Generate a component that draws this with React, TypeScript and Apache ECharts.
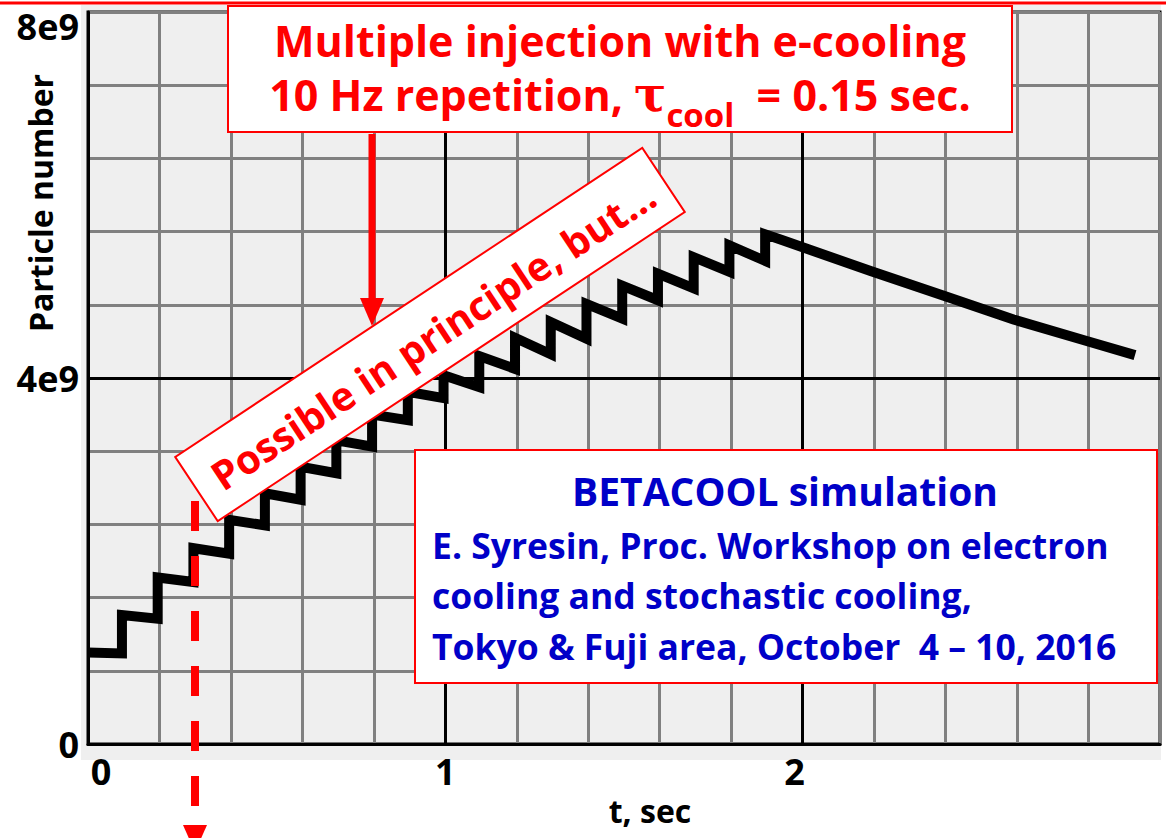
import React, { useEffect, useRef } from 'react';
import * as echarts from 'echarts';

// ---- data (particle numbers in units of 1e9) ----
const injectionTimes = [0, 0.095, 0.195, 0.295, 0.395, 0.495, 0.595, 0.695, 0.795, 0.895, 0.995, 1.095, 1.195, 1.295, 1.395, 1.495, 1.595, 1.695, 1.795, 1.895];
const levelAfterInjection = [1.0, 1.41, 1.82, 2.14, 2.45, 2.74, 3.03, 3.32, 3.6, 3.85, 4.03, 4.24, 4.44, 4.61, 4.81, 5.01, 5.14, 5.32, 5.45, 5.57];
const levelBeforeNextInjection = [0.99, 1.37, 1.77, 2.08, 2.39, 2.67, 2.96, 3.25, 3.54, 3.78, 3.9, 4.1, 4.26, 4.43, 4.65, 4.85, 4.98, 5.16, 5.28];
const decayTimes = [1.94, 2.19, 2.395, 2.59, 2.79, 2.93];
const decayLevels = [5.51, 5.17, 4.9, 4.64, 4.41, 4.25];

const xTickValues = [0, 1, 2];
const xTickLabels = ['0', '1', '2'];
const yTickValues = [0, 4e9, 8e9];
const yTickLabels = ['0', '4e9', '8e9'];
const majorX = [1, 2];
const majorY = [4e9];

const FONT = '"Open Sans", "Noto Sans", sans-serif';
const RED = '#ff0000';
const BLUE = '#0000c8';

function buildCurve(): [number, number][] {
  const pts: [number, number][] = [];
  for (let k = 0; k < injectionTimes.length; k++) {
    pts.push([injectionTimes[k], levelAfterInjection[k] * 1e9]);
    if (k < levelBeforeNextInjection.length) {
      pts.push([injectionTimes[k + 1], levelBeforeNextInjection[k] * 1e9]);
    }
  }
  for (let i = 0; i < decayTimes.length; i++) pts.push([decayTimes[i], decayLevels[i] * 1e9]);
  return pts;
}

function txt(x: number, y: number, text: string, size: number, color: string, align = 'center', extra: any = {}) {
  return {
    type: 'text', x, y, z: 100,
    style: {
      text, fontSize: size, fontWeight: 'bold', fontFamily: FONT, fill: color,
      align, verticalAlign: 'middle', textAlign: align, textVerticalAlign: 'middle', ...extra,
    },
  };
}

export default function App() {
  const ref = useRef<HTMLDivElement>(null);
  useEffect(() => {
    if (!ref.current) return;
    const chart = echarts.init(ref.current, undefined, { renderer: 'svg' });
    const rot = (33.5 * Math.PI) / 180;
    const lbl = { fontSize: 36, fontWeight: 'bold', fontFamily: FONT, color: '#000' };
    const option: any = {
      animation: false,
      grid: {
        left: 88, right: 6, top: 12, bottom: 94,
        show: true, borderColor: '#000', borderWidth: 3, backgroundColor: 'transparent',
      },
      xAxis: {
        type: 'value', min: 0, max: 3, interval: 0.2,
        name: 't, sec', nameLocation: 'middle', nameGap: 50,
        nameTextStyle: { fontSize: 32, fontWeight: 'bold', fontFamily: FONT, color: '#000', padding: [0, 0, 0, 52] },
        axisLine: { show: true, lineStyle: { color: '#000', width: 3 } },
        axisTick: { show: false },
        splitLine: { show: true, lineStyle: { color: '#808080', width: 3 } },
        axisLabel: {
          margin: 9, ...lbl,
          formatter: (v: number) => {
            const i = xTickValues.findIndex((t) => Math.abs(t - v) < 1e-6);
            if (i < 0) return '';
            if (i === 0) return '{l|' + xTickLabels[i] + '}';
            if (i === 2) return '{r|' + xTickLabels[i] + '}';
            return xTickLabels[i];
          },
          rich: {
            l: { ...lbl, padding: [0, 0, 0, 26] },
            r: { ...lbl, padding: [0, 16, 0, 0] },
          },
        },
      },
      yAxis: {
        type: 'value', min: 0, max: 8e9, interval: 8e8,
        axisLine: { show: true, lineStyle: { color: '#000', width: 3 } },
        axisTick: { show: false },
        splitLine: { show: true, lineStyle: { color: '#808080', width: 3 } },
        axisLabel: {
          margin: 9, ...lbl,
          formatter: (v: number) => {
            const i = yTickValues.findIndex((t) => Math.abs(t - v) < 1);
            if (i < 0) return '';
            if (i === 2) return '{t|' + yTickLabels[i] + '}';
            return yTickLabels[i];
          },
          rich: {
            t: { ...lbl, padding: [28, 0, 0, 0] },
          },
        },
      },
      series: [
        {
          type: 'line',
          data: buildCurve(),
          symbol: 'none',
          z: 3,
          lineStyle: { color: '#000', width: 10, join: 'miter', cap: 'butt' },
          markLine: {
            silent: true,
            symbol: ['none', 'none'],
            label: { show: false },
            lineStyle: { color: '#000', width: 3, type: 'solid' },
            data: [...majorX.map((x) => ({ xAxis: x })), ...majorY.map((y) => ({ yAxis: y }))],
          },
        },
      ],
      graphic: {
        elements: [
          { type: 'rect', z: -100, shape: { x: 81, y: 5, width: 1080, height: 755 }, style: { fill: '#efefef' } },
          { type: 'line', z: 100, shape: { x1: 0, y1: 3, x2: 1166, y2: 3 }, style: { stroke: RED, lineWidth: 3 } },
          // y axis title
          {
            type: 'text', x: 40, y: 203, rotation: Math.PI / 2, z: 100,
            style: {
              text: 'Particle number', fontSize: 32, fontWeight: 'bold', fontFamily: FONT, fill: '#000',
              align: 'center', verticalAlign: 'middle', textAlign: 'center', textVerticalAlign: 'middle',
            },
          },
          // top box
          { type: 'rect', z: 100, shape: { x: 228, y: 6, width: 784, height: 126 }, style: { fill: '#fff', stroke: RED, lineWidth: 2 } },
          txt(620, 40, 'Multiple injection with e-cooling', 43, RED),
          txt(620, 94, '10 Hz repetition, {tau|τ}{sub|cool}  = 0.15 sec.', 43, RED, 'center', {
            rich: {
              tau: { fontSize: 48, fontWeight: 'bold', fontFamily: '"DejaVu Serif", serif', fill: RED },
              sub: { fontSize: 33, fontWeight: 'bold', fontFamily: FONT, fill: RED, padding: [40, 0, 0, 0] },
            },
          }),
          // solid arrow down
          { type: 'line', z: 100, shape: { x1: 372, y1: 134, x2: 372, y2: 300 }, style: { stroke: RED, lineWidth: 7 } },
          { type: 'polygon', z: 100, shape: { points: [[360, 298], [384, 298], [372, 326]] }, style: { fill: RED } },
          // dashed arrow down
          { type: 'line', z: 100, shape: { x1: 195, y1: 446, x2: 195, y2: 822 }, style: { stroke: RED, lineWidth: 8, lineDash: [30, 25] } },
          { type: 'polygon', z: 100, shape: { points: [[183, 825], [207, 825], [195, 852]] }, style: { fill: RED } },
          // rotated box
          {
            type: 'group', x: 430, y: 334.5, rotation: rot, z: 100,
            children: [
              { type: 'rect', z: 100, shape: { x: -280, y: -38.5, width: 560, height: 77 }, style: { fill: '#fff', stroke: RED, lineWidth: 2 } },
              {
                type: 'text', x: 2, y: 2, z: 101,
                style: {
                  text: 'Possible in principle, but…', fontSize: 40, fontWeight: 'bold', fontFamily: FONT, fill: RED,
                  align: 'center', verticalAlign: 'middle', textAlign: 'center', textVerticalAlign: 'middle',
                },
              },
            ],
          },
          // blue citation box
          { type: 'rect', z: 100, shape: { x: 415, y: 450, width: 742, height: 233 }, style: { fill: '#fff', stroke: RED, lineWidth: 2 } },
          txt(785, 490, 'BETACOOL simulation', 39, BLUE),
          txt(432, 545, 'E. Syresin, Proc. Workshop on electron', 35.5, BLUE, 'left'),
          txt(432, 595, 'cooling and stochastic cooling,', 35.5, BLUE, 'left'),
          txt(432, 646, 'Tokyo & Fuji area, October  4 – 10, 2016', 35.5, BLUE, 'left'),
        ],
      },
    };
    chart.setOption(option);
    return () => chart.dispose();
  }, []);
  return (
    <div
      ref={ref}
      style={{ position: 'absolute', left: 0, top: 0, width: 1166, height: 838, background: '#fff' }}
    />
  );
}
